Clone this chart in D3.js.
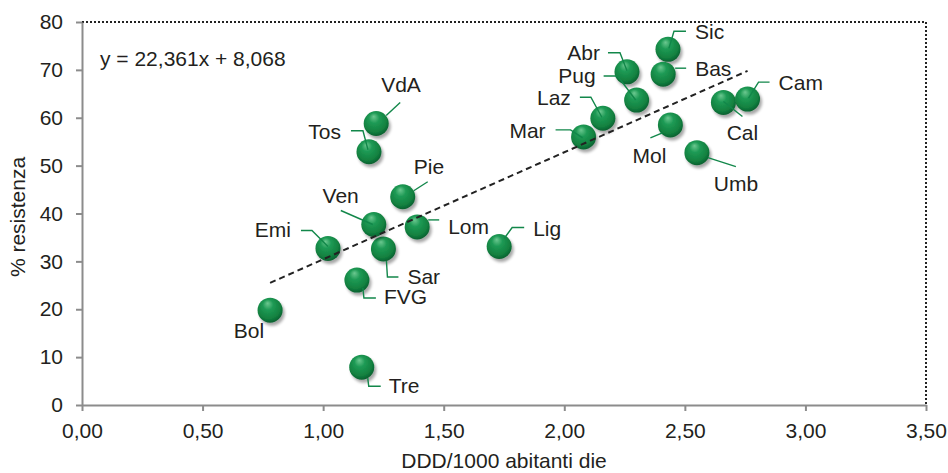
<!DOCTYPE html>
<meta charset="utf-8">
<head>
<style>
  body { margin: 0; background: #fff; font-family: "Liberation Sans", Arial, sans-serif; }
  svg text { font-size: 21px; fill: #231f20; }
  .axis path, .axis line { stroke: #8c8c8c; stroke-width: 2; fill: none; }
  .axis text { font-size: 21px; fill: #231f20; font-family: "Liberation Sans", Arial, sans-serif; }
  .frame { stroke: #222; stroke-width: 2; stroke-dasharray: 2,2; fill: none; }
  .trend { stroke: #222; stroke-width: 2; stroke-dasharray: 6,4; fill: none; }
  .leader { stroke: #12874a; stroke-width: 1.4; fill: none; }
</style>
</head>
<body>
<div id="chart"></div>
<script src="https://cdn.jsdelivr.net/npm/d3@7"></script>
<script>
// regioni
var regions = ["Bol", "Tre", "FVG", "Emi", "Sar", "Lom", "Ven", "Pie", "Tos", "VdA", "Lig",
               "Mar", "Laz", "Pug", "Abr", "Sic", "Bas", "Mol", "Umb", "Cal", "Cam"];
// DDD/1000 abitanti die
var ddd = [0.78, 1.16, 1.14, 1.02, 1.25, 1.39, 1.21, 1.33, 1.19, 1.22, 1.73,
           2.08, 2.16, 2.30, 2.26, 2.43, 2.41, 2.44, 2.55, 2.66, 2.76];
// % resistenza
var resist = [19.8, 7.9, 26.1, 32.7, 32.6, 37.2, 37.7, 43.5, 52.9, 58.8, 33.1,
              56.0, 59.9, 63.7, 69.6, 74.3, 69.1, 58.5, 52.7, 63.2, 63.9];
var xTicks = [0, 0.5, 1, 1.5, 2, 2.5, 3, 3.5];
var yTicks = [0, 10, 20, 30, 40, 50, 60, 70, 80];
var slope = 22.361, intercept = 8.068;

// label placement (pixel offsets from the marker centre)
var labelPos = {
  Bol: { dx: -6, dy: 28, anchor: "end", leader: [] },
  Tre: { dx: 27, dy: 26, anchor: "start", leader: [[6, 11], [7, 19], [19, 19]] },
  FVG: { dx: 27, dy: 24, anchor: "start", leader: [[6, 8], [7, 18], [19, 18]] },
  Emi: { dx: -37, dy: -11, anchor: "end", leader: [[-27, -18], [-16, -18], [0, -2]] },
  Sar: { dx: 24, dy: 35, anchor: "start", leader: [[3, 12], [4, 28], [15, 28]] },
  Lom: { dx: 31, dy: 7, anchor: "start", leader: [[11, -7], [22, -7]] },
  Ven: { dx: -15, dy: -22, anchor: "end", leader: [[-33, -14], [-1, 0]] },
  Pie: { dx: 11, dy: -23, anchor: "start", leader: [[25, -15], [11, -6]] },
  Tos: { dx: -28, dy: -13, anchor: "end", leader: [[-18, -21], [-6, -21], [-1, -2]] },
  VdA: { dx: 5, dy: -31, anchor: "start", leader: [[24, -21], [10, -8]] },
  Lig: { dx: 34, dy: -11, anchor: "start", leader: [[25, -19], [13, -19], [5, -8]] },
  Mar: { dx: -38, dy: 1, anchor: "end", leader: [[-28, -7], [-13, -7], [-1, 1]] },
  Laz: { dx: -32, dy: -13, anchor: "end", leader: [[-23, -21], [-12, -21], [-1, -1]] },
  Pug: { dx: -41, dy: -17, anchor: "end", leader: [[-33, -24], [-19, -24], [-1, 0]] },
  Abr: { dx: -27, dy: -12, anchor: "end", leader: [[-19, -19], [-7, -19], [0, -1]] },
  Sic: { dx: 27, dy: -10, anchor: "start", leader: [[18, -18], [6, -18], [1, -1]] },
  Bas: { dx: 32, dy: 2, anchor: "start", leader: [[23, -6], [12, -6]] },
  Mol: { dx: -21, dy: 38, anchor: "middle", leader: [[-20, 13], [-8, 8]] },
  Umb: { dx: 39, dy: 38, anchor: "middle", leader: [[39, 14], [11, 5]] },
  Cal: { dx: 19, dy: 38, anchor: "middle", leader: [[19, 14], [0, -1]] },
  Cam: { dx: 31, dy: -9, anchor: "start", leader: [[22, -17], [11, -17], [1, -1]] }
};

var width = 948, height = 473,
    margin = { top: 22, right: 22, bottom: 68, left: 82 };

var it = d3.formatLocale({ decimal: ",", thousands: ".", grouping: [3], currency: ["", "€"] });
var fmtX = it.format(".2f");

var svg = d3.select("#chart").append("svg")
    .attr("width", width)
    .attr("height", height);

var defs = svg.append("defs");
var grad = defs.append("radialGradient")
    .attr("id", "ball")
    .attr("cx", "45%").attr("cy", "40%").attr("r", "60%")
    .attr("fx", "40%").attr("fy", "22%");
grad.append("stop").attr("offset", "0%").attr("stop-color", "#6cc890");
grad.append("stop").attr("offset", "35%").attr("stop-color", "#1e9a55");
grad.append("stop").attr("offset", "80%").attr("stop-color", "#12803f");
grad.append("stop").attr("offset", "100%").attr("stop-color", "#0b6030");

var shadow = defs.append("filter").attr("id", "shadow")
    .attr("x", "-50%").attr("y", "-50%").attr("width", "200%").attr("height", "200%");
shadow.append("feGaussianBlur").attr("in", "SourceAlpha").attr("stdDeviation", 1.6);
shadow.append("feOffset").attr("dx", 1.5).attr("dy", 2.5).attr("result", "off");
shadow.append("feComponentTransfer").append("feFuncA").attr("type", "linear").attr("slope", 0.35);
var merge = shadow.append("feMerge");
merge.append("feMergeNode");
merge.append("feMergeNode").attr("in", "SourceGraphic");

var x = d3.scaleLinear()
    .domain([0, 3.5])
    .range([margin.left, width - margin.right]);

var y = d3.scaleLinear()
    .domain([0, 80])
    .range([height - margin.bottom, margin.top]);

// dotted frame top / right
svg.append("path")
    .attr("class", "frame")
    .attr("d", "M" + x(0) + "," + y(80) + "H" + x(3.5) + "V" + y(0));

// axes
svg.append("g")
    .attr("class", "axis")
    .attr("transform", "translate(0," + y(0) + ")")
    .call(d3.axisBottom(x).tickValues(xTicks).tickFormat(fmtX).tickSize(6).tickSizeOuter(0).tickPadding(12));

svg.append("g")
    .attr("class", "axis")
    .attr("transform", "translate(" + x(0) + ",0)")
    .call(d3.axisLeft(y).tickValues(yTicks).tickSize(6).tickSizeOuter(0).tickPadding(13));

svg.selectAll(".axis .domain").attr("stroke", "#8c8c8c");

// axis titles
svg.append("text")
    .attr("x", (x(0) + x(3.5)) / 2)
    .attr("y", 468)
    .attr("text-anchor", "middle")
    .text("DDD/1000 abitanti die");

svg.append("text")
    .attr("transform", "translate(25," + 217 + ") rotate(-90)")
    .attr("text-anchor", "middle")
    .text("% resistenza");

var data = regions.map(function (r, i) {
    return { name: r, x: ddd[i], y: resist[i] };
});

// markers
svg.append("g").selectAll("circle")
    .data(data)
    .enter()
    .append("circle")
    .attr("cx", function (d) { return x(d.x); })
    .attr("cy", function (d) { return y(d.y); })
    .attr("r", 12.5)
    .attr("fill", "url(#ball)")
    .attr("filter", "url(#shadow)");

// leader lines
svg.append("g").selectAll("path")
    .data(data.filter(function (d) { return labelPos[d.name].leader.length; }))
    .enter()
    .append("path")
    .attr("class", "leader")
    .attr("d", function (d) {
        var cx = x(d.x), cy = y(d.y);
        return "M" + labelPos[d.name].leader.map(function (p) {
            return (cx + p[0]) + "," + (cy + p[1]);
        }).join("L");
    });

// trend line
var xmin = d3.min(ddd), xmax = d3.max(ddd);
svg.append("line")
    .attr("class", "trend")
    .attr("x1", x(xmin)).attr("y1", y(slope * xmin + intercept))
    .attr("x2", x(xmax)).attr("y2", y(slope * xmax + intercept));

// labels
svg.append("g").selectAll("text")
    .data(data)
    .enter()
    .append("text")
    .attr("x", function (d) { return x(d.x) + labelPos[d.name].dx; })
    .attr("y", function (d) { return y(d.y) + labelPos[d.name].dy; })
    .attr("text-anchor", function (d) { return labelPos[d.name].anchor; })
    .text(function (d) { return d.name; });

// equation
svg.append("text")
    .attr("x", 100)
    .attr("y", 66)
    .text("y = " + it.format(".3f")(slope) + "x + " + it.format(".3f")(intercept));
</script>
</body>
